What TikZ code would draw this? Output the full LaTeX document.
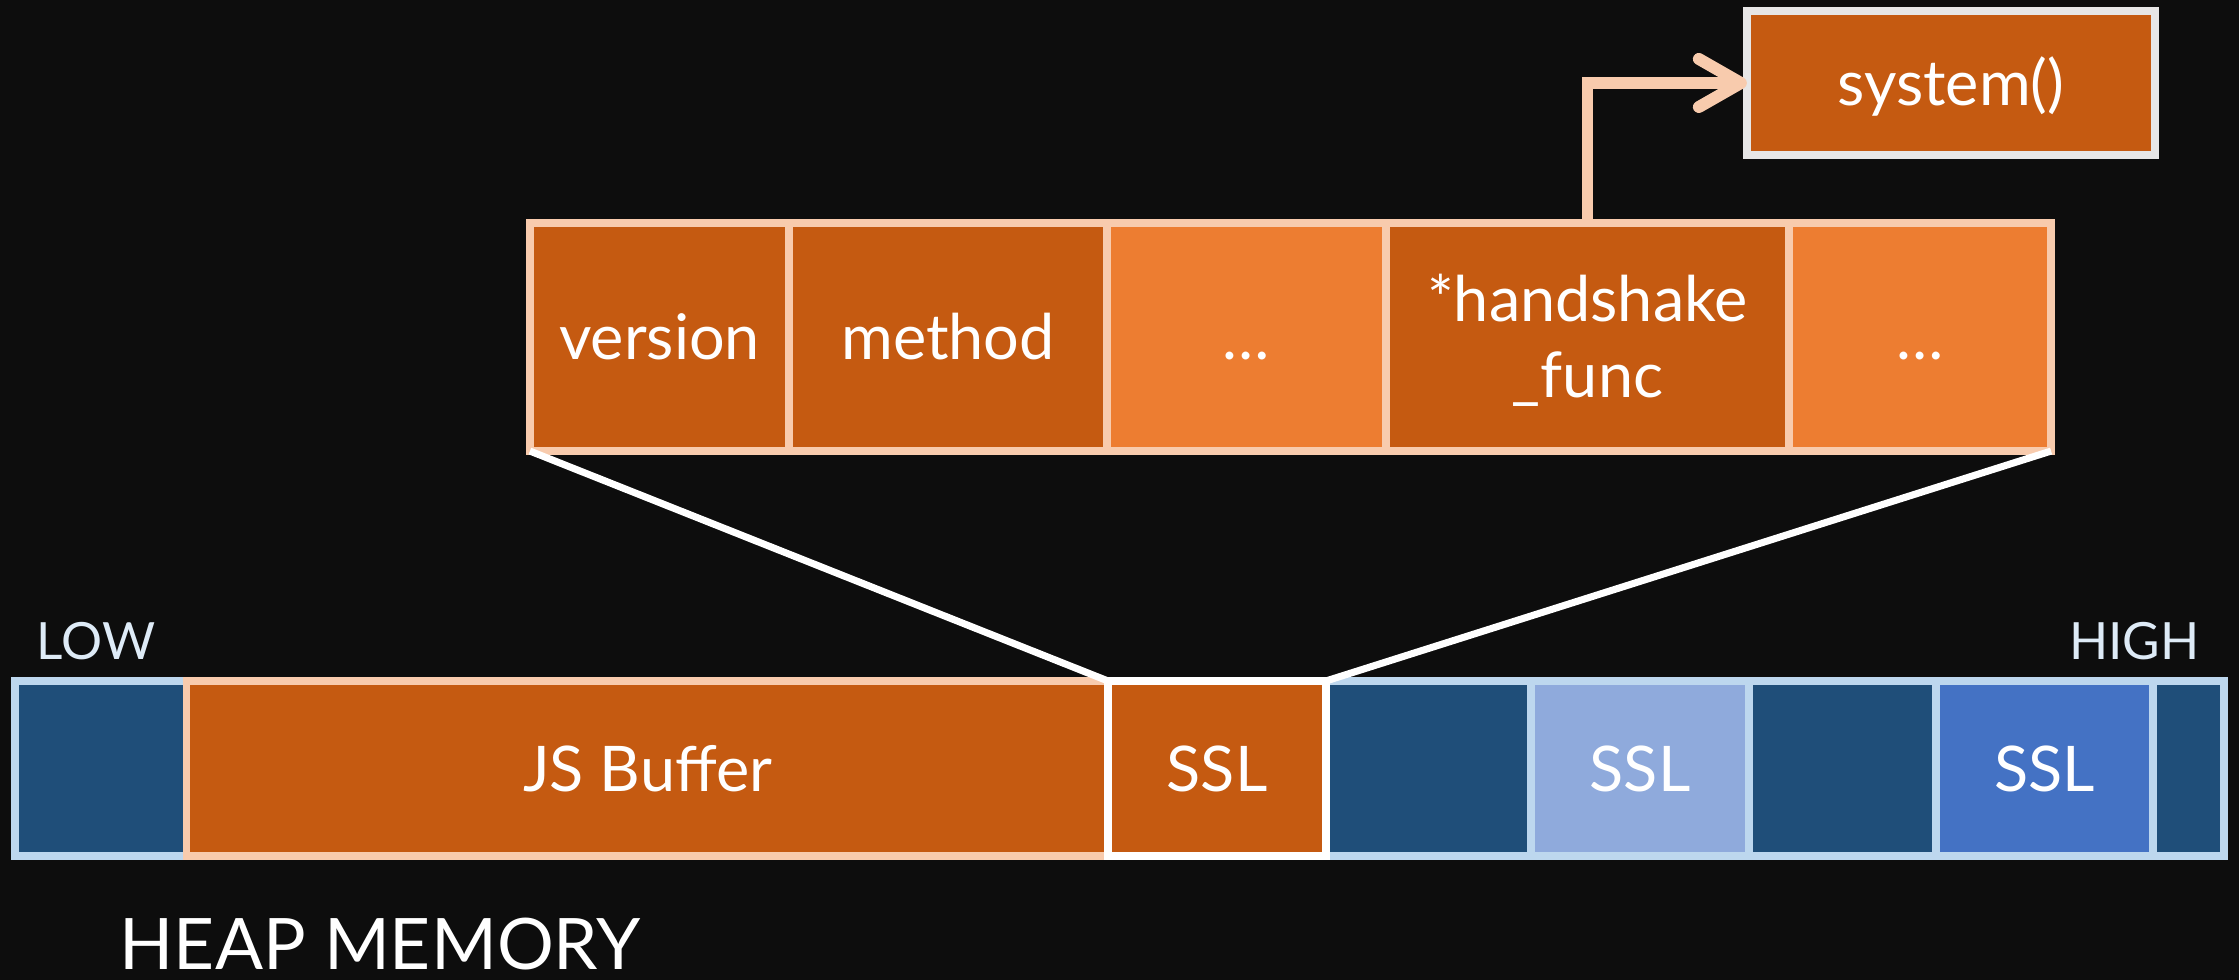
\documentclass[tikz,border=0pt]{standalone}
\usepackage{fontspec}
\setmainfont{Lato}
\usetikzlibrary{arrows.meta}
\definecolor{bg}{HTML}{0D0D0D}
\definecolor{dorange}{HTML}{C55A11}
\definecolor{lorange}{HTML}{ED7D31}
\definecolor{peach}{HTML}{F8CBAD}
\definecolor{dblue}{HTML}{1F4E79}
\definecolor{lblueb}{HTML}{BDD7EE}
\definecolor{sslmid}{HTML}{8FAADC}
\definecolor{sslblue}{HTML}{4472C4}
\definecolor{sysgrey}{HTML}{E7E6E6}
\definecolor{lowtxt}{HTML}{DEEBF7}
\begin{document}
\begin{tikzpicture}[x=0.01cm,y=-0.01cm,
  cell/.style={draw, line width=2.1pt, inner sep=0pt, outer sep=0pt,
    text=white, font=\fontsize{17.9}{21}\selectfont,
    text height=12.8pt, text depth=0pt},
  barcell/.style={cell, minimum height=1.75cm},
  structcell/.style={cell, minimum height=2.28cm},
  bluecell/.style={barcell, fill=dblue, draw=lblueb},
  orcell/.style={structcell, fill=dorange, draw=peach},
  ltcell/.style={structcell, fill=lorange, draw=peach},
  txt/.style={text=white, font=\fontsize{17.9}{21}\selectfont, inner sep=0pt},
  zoomline/.style={draw=white, line width=2pt},
  ptrline/.style={draw=peach, line width=3.4pt,
    -{Straight Barb[length=4.2mm,width=4.8mm,round]}}
]
\useasboundingbox[fill=bg] (0,0) rectangle (2239,980);

% heap bar
\node[bluecell, minimum width=1.72cm] (c1) at (101,768.5) {};
\node[bluecell, minimum width=2.05cm] (d2) at (1428.5,768.5) {};
\node[bluecell, minimum width=2.18cm, fill=sslmid] (ssl2) at (1640,768.5) {SSL};
\node[bluecell, minimum width=1.87cm] (d3) at (1842.5,768.5) {};
\node[bluecell, minimum width=2.17cm, fill=sslblue] (ssl3) at (2044.5,768.5) {SSL};
\node[bluecell, minimum width=0.71cm] (d4) at (2188.5,768.5) {};
\node[barcell, minimum width=9.21cm, fill=dorange, draw=peach] (js) at (647.5,768.5) {JS Buffer};
\node[barcell, minimum width=2.18cm, fill=dorange, draw=white] (ssl1) at (1217,768.5) {SSL};

% struct
\node[orcell, minimum width=2.59cm] (ver) at (659.5,337) {version};
\node[orcell, minimum width=3.18cm] (meth) at (948,337) {method};
\node[ltcell, minimum width=2.79cm] (dots1) at (1246.5,337) {…};
\node[orcell, minimum width=4.03cm] (hs) at (1587.5,337) {};
\node[ltcell, minimum width=2.62cm] (dots2) at (1920,337) {…};
\node[txt, anchor=base] (hs1) at (1587.5,322) {*handshake};
\node[txt, anchor=base] (hs2) at (1587.5,398) {\_func};

% system
\node[cell, fill=dorange, draw=sysgrey, line width=2.3pt,
  minimum width=4.08cm, minimum height=1.44cm] (sys) at (1951,83) {system()};

% connectors
\draw[ptrline] (hs.north) |- (sys.west);
\draw[zoomline] (ver.south west) -- (ssl1.north west);
\draw[zoomline] (dots2.south east) -- (ssl1.north east);

% labels
\node[anchor=base west, inner sep=0pt, text=lowtxt, font=\fontsize{14.6}{17}\selectfont] (low) at (36,660) {LOW};
\node[anchor=base east, inner sep=0pt, text=lowtxt, font=\fontsize{14.6}{17}\selectfont] (high) at (2200,660) {HIGH};
\node[anchor=base west, inner sep=0pt, text=white, font=\fontsize{20.2}{24}\selectfont] (heap) at (119,970) {HEAP MEMORY};
\end{tikzpicture}
\end{document}
